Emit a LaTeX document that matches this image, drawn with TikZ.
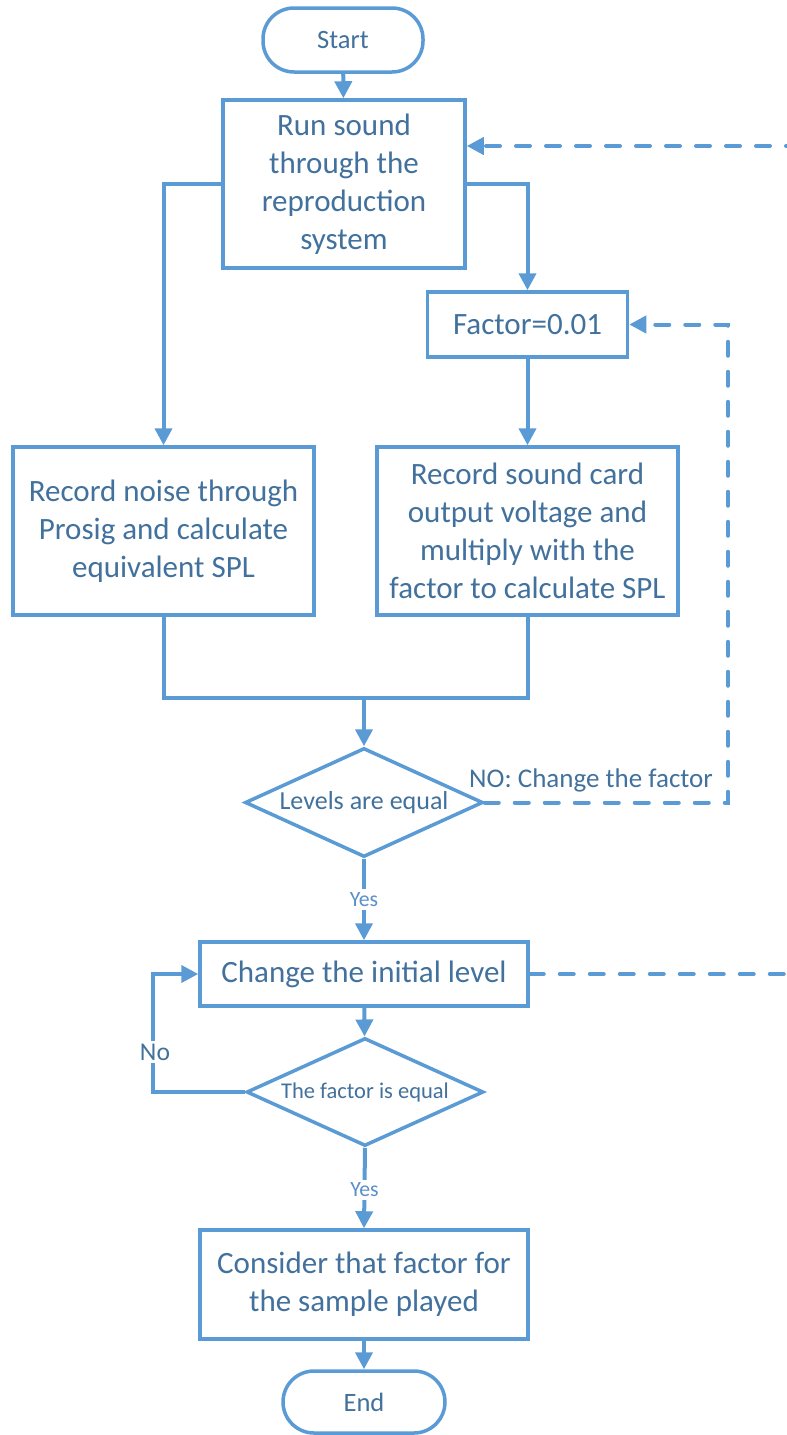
\documentclass[tikz,border=0pt]{standalone}
\usepackage{fontspec}
\setmainfont{Carlito}
\usetikzlibrary{arrows.meta,shapes.geometric,calc}
\definecolor{edge}{HTML}{5B9BD5}
\definecolor{ink}{HTML}{41719C}
\definecolor{lbl}{HTML}{5B8FC9}

\begin{document}
\begin{tikzpicture}[x=1pt,y=-1pt,
  flow/.style={draw=edge,line width=3.5pt,fill=white,text=ink,align=center,inner sep=0pt,
    font=\fontsize{31}{38}\selectfont},
  term/.style={flow,rounded corners=31pt,font=\fontsize{26.5}{32}\selectfont},
  decide/.style={draw=edge,line width=3.5pt,fill=white,diamond,inner sep=0pt},
  plainlink/.style={draw=edge,line width=4pt},
  link/.style={plainlink,-{Triangle[width=17pt,length=17pt]}},
  dashline/.style={plainlink,dash pattern=on 14pt off 16pt,line cap=round},
  backlink/.style={dashline,-{Triangle[width=17pt,length=17pt]}},
  tag/.style={text=ink,inner sep=1pt},
  yes/.style={text=lbl,fill=white,inner sep=3pt,font=\fontsize{21.8}{24}\selectfont}
]
\useasboundingbox (0,0) rectangle (787,1435);

% process steps
\node[term,minimum width=160pt,minimum height=64pt] (start) at (343,40) {Start};
\node[flow,minimum width=242pt,minimum height=168pt] (box1) at (344,184)
  {Run sound\\through the\\reproduction\\system};
\node[flow,minimum width=200pt,minimum height=65pt] (factor) at (527.5,324.5) {Factor=0.01};
\node[flow,minimum width=301pt,minimum height=168pt] (noise) at (163.5,531)
  {Record noise through\\Prosig and calculate\\equivalent SPL};
\node[flow,minimum width=301pt,minimum height=168pt] (sound) at (527.5,531)
  {Record sound card\\output voltage and\\multiply with the\\factor to calculate SPL};
\node[decide,minimum width=238pt,minimum height=109pt] (d1) at (364,802.5) {};
\node[tag,font=\fontsize{26}{30}\selectfont] at (d1.center) {Levels are equal};
\node[flow,minimum width=328pt,minimum height=64pt] (change) at (364,974) {Change the initial level};
\node[decide,minimum width=237pt,minimum height=108pt] (d2) at (365,1092) {};
\node[tag,font=\fontsize{22.5}{26}\selectfont] at (d2.center) {The factor is equal};
\node[flow,minimum width=328pt,minimum height=109pt] (consider) at (364,1284.5)
  {Consider that factor for\\the sample played};
\node[term,minimum width=162pt,minimum height=62pt] (finish) at (364,1402) {End};

% helper points for routed connectors
\coordinate (merge) at (364,698);
\coordinate (loopA) at (728,324.5);
\coordinate (offT) at (800,146);
\coordinate (offB) at (800,974);
\coordinate (noTurn) at (153,1092);

% connectors
\draw[link] (start) -- (box1);
\draw[link] (box1.west) -| (noise.north);
\draw[link] (box1.east) -| (factor.north);
\draw[link] (factor) -- (sound);
\draw[plainlink] (noise.south) |- (merge) -| (sound.south);
\draw[link] (merge) -- (d1.north);
\draw[backlink] (d1.east) -| (loopA) -- (factor.east);
\node[tag,anchor=base west,font=\fontsize{27}{30}\selectfont] at (468,787) {NO: Change the factor};
\draw[link] (d1.south) -- (change.north) node[yes,pos=0.5] {Yes};
\draw[backlink] (offT) -- (box1.east |- offT);
\draw[dashline] (change.east) -- (offB);
\draw[link] (change) -- (d2);
\draw[link] (d2.west) -- (noTurn) |- (change.west);
\node[tag,fill=white,inner sep=3pt,font=\fontsize{25.6}{28}\selectfont] at (155,1052) {No};
\draw[link] (d2.south) -- (consider.north) node[yes,pos=0.52] {Yes};
\draw[link] (consider) -- (finish);
\end{tikzpicture}
\end{document}
